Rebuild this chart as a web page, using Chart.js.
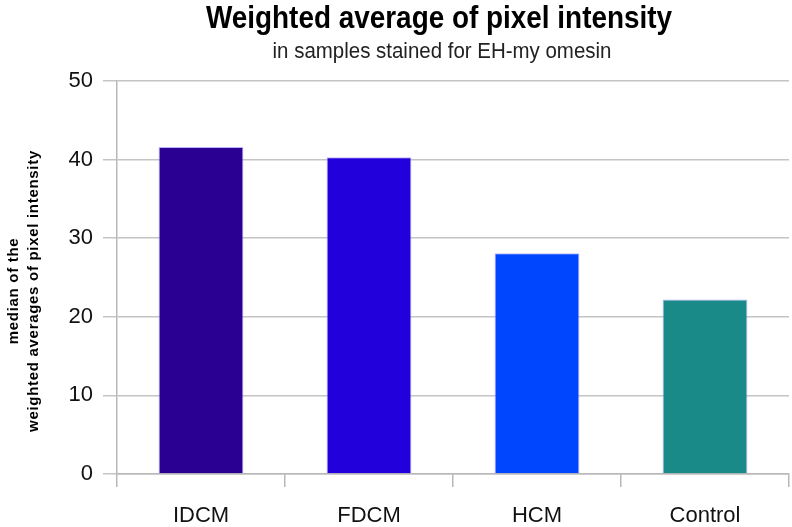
<!DOCTYPE html>
<html>
<head>
<meta charset="utf-8">
<script src="https://cdn.jsdelivr.net/npm/chart.js@4"></script>
<style>
  html, body { margin: 0; padding: 0; background: #fff; }
  #wrap { width: 792px; height: 527px; position: relative; }
</style>
</head>
<body>
<div id="wrap"><canvas id="c" width="792" height="527"></canvas></div>
<script>
const categories = ['IDCM', 'FDCM', 'HCM', 'Control'];
const values = [41.6, 40.3, 28.1, 22.2];
const barColors = ['#2a0092', '#2200dc', '#0046ff', '#198a88'];
const yTicks = [0, 10, 20, 30, 40, 50];
const titleText = 'Weighted average of pixel intensity';
const subtitleText = 'in samples stained for EH-my omesin';
const yTitleLines = ['median of the', 'weighted averages of pixel intensity'];

const textPlugin = {
  id: 'texts',
  afterDraw(chart) {
    const ctx = chart.ctx;
    ctx.save();
    ctx.fillStyle = '#000';
    ctx.textAlign = 'center';
    ctx.textBaseline = 'alphabetic';
    ctx.save();
    ctx.translate(439, 28);
    ctx.scale(0.9, 1);
    ctx.font = 'bold 31px "Liberation Sans", Arial, sans-serif';
    ctx.fillText(titleText, 0, 0);
    ctx.restore();
    ctx.save();
    ctx.translate(442, 58);
    ctx.scale(0.93, 1);
    ctx.font = '22px "Liberation Sans", Arial, sans-serif';
    ctx.fillStyle = '#222';
    ctx.fillText(subtitleText, 0, 0);
    ctx.restore();
    // y axis title
    ctx.fillStyle = '#000';
    ctx.font = 'bold 15px "Liberation Sans", Arial, sans-serif';
    ctx.letterSpacing = '0.7px';
    ctx.textBaseline = 'middle';
    ctx.translate(0, 291);
    ctx.rotate(-Math.PI / 2);
    ctx.fillText(yTitleLines[0], 0, 14);
    ctx.fillText(yTitleLines[1], 0, 34);
    ctx.restore();
  }
};

new Chart(document.getElementById('c'), {
  type: 'bar',
  data: {
    labels: categories,
    datasets: [{
      data: values,
      backgroundColor: barColors,
      borderColor: 'rgba(170,150,255,0.75)',
      borderWidth: 1,
      barPercentage: 0.505,
      categoryPercentage: 1.0
    }]
  },
  options: {
    responsive: false,
    animation: false,
    devicePixelRatio: 1,
    layout: { padding: { top: 81, right: 3, bottom: 0, left: 0 } },
    plugins: { legend: { display: false }, tooltip: { enabled: false }, title: { display: false } },
    scales: {
      x: {
        grid: { display: true, drawOnChartArea: false, drawTicks: true, tickLength: 13, offset: true, color: '#b8b8b8', lineWidth: 1.5 },
        border: { display: true, color: '#b8b8b8', width: 1.5 },
        ticks: { color: '#111', font: { family: '"Liberation Sans", Arial, sans-serif', size: 22 }, padding: 16 },
        afterFit(scale) { scale.height = 53; }
      },
      y: {
        min: 0, max: 50,
        afterBuildTicks(scale) { scale.ticks = yTicks.map(v => ({ value: v })); },
        grid: { color: '#c4c4c4', lineWidth: 1.5, drawTicks: true, tickLength: 14 },
        border: { display: true, color: '#b8b8b8', width: 1.5 },
        ticks: { color: '#111', font: { family: '"Liberation Sans", Arial, sans-serif', size: 22 }, padding: 10 },
        afterFit(scale) { scale.width = 117; }
      }
    }
  },
  plugins: [textPlugin]
});
</script>
</body>
</html>
